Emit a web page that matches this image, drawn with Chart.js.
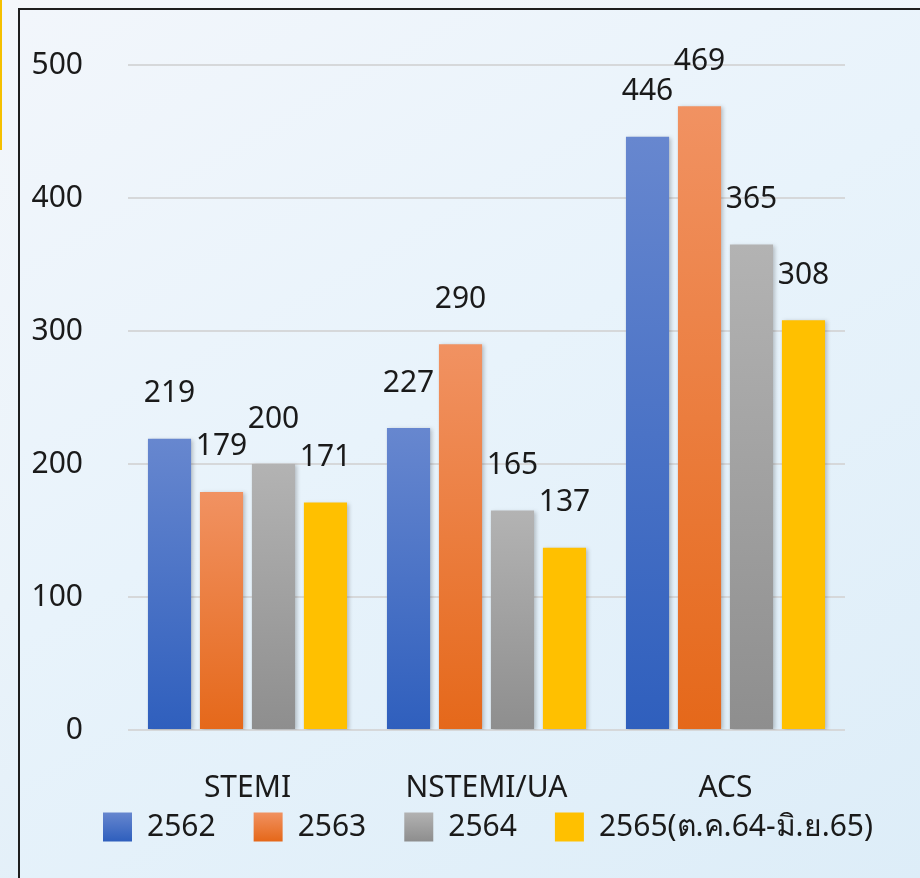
<!DOCTYPE html>
<html>
<head>
<meta charset="utf-8">
<script src="https://cdn.jsdelivr.net/npm/chart.js@4.4.1/dist/chart.umd.min.js"></script>
<style>
  html, body { margin: 0; padding: 0; }
  body {
    width: 920px; height: 878px; position: relative; overflow: hidden;
    background: linear-gradient(160deg, #f4f7fb 0%, #eaf3fa 50%, #dcecf7 100%);
  }
  #frame {
    position: absolute; left: 18px; top: 8px; right: -4px; bottom: -4px;
    border-left: 2px solid #1e1e1e; border-top: 2px solid #1e1e1e;
    background: linear-gradient(150deg, #f2f6fb 0%, #e8f3fb 45%, #ddedf8 100%);
  }
  #strip { position: absolute; left: 0; top: 0; width: 2px; height: 150px; background: #f5c000; }
  #chart { position: absolute; left: 0; top: 0; }
</style>
</head>
<body>
<div id="frame"></div>
<div id="strip"></div>
<canvas id="chart" width="920" height="878"></canvas>
<script>
const categories = ['STEMI', 'NSTEMI/UA', 'ACS'];
const seriesNames = ['2562', '2563', '2564', '2565(ต.ค.64-มิ.ย.65)'];
const values2562 = [219, 227, 446];
const values2563 = [179, 290, 469];
const values2564 = [200, 165, 365];
const values2565 = [171, 137, 308];
const yTicks = [0, 100, 200, 300, 400, 500];

const fontFamily = "'Noto Sans', 'Open Sans', sans-serif";

// top / bottom colours of each series gradient
const colorStops = [
    ['#6787cf', '#2f5fbd'],
    ['#f19262', '#e5681a'],
    ['#b3b3b3', '#8e8e8e'],
    ['#ffc000', '#ffc000']
];

function barGradient(i) {
    return function(context) {
        const chart = context.chart;
        const y = chart.scales.y;
        if (!y || context.raw === undefined) return colorStops[i][0];
        const top = y.getPixelForValue(context.raw);
        const base = y.getPixelForValue(0);
        const g = chart.ctx.createLinearGradient(0, top, 0, base);
        g.addColorStop(0, colorStops[i][0]);
        g.addColorStop(1, colorStops[i][1]);
        return g;
    };
}

const allValues = [values2562, values2563, values2564, values2565];

const barShadow = {
    id: 'barShadow',
    beforeDatasetsDraw(chart) {
        const ctx = chart.ctx;
        ctx.save();
        ctx.shadowColor = 'rgba(0,0,0,0.22)';
        ctx.shadowBlur = 4;
        ctx.shadowOffsetX = 2;
        ctx.shadowOffsetY = 1;
    },
    afterDatasetsDraw(chart) {
        chart.ctx.restore();
    }
};

const valueLabels = {
    id: 'valueLabels',
    afterDatasetsDraw(chart) {
        const ctx = chart.ctx;
        ctx.save();
        ctx.font = '30px ' + fontFamily;
        ctx.fillStyle = '#1a1a1a';
        ctx.textAlign = 'center';
        ctx.textBaseline = 'middle';
        chart.data.datasets.forEach((ds, i) => {
            chart.getDatasetMeta(i).data.forEach((bar, j) => {
                ctx.fillText(ds.data[j], bar.x, bar.y - 45);
            });
        });
        ctx.restore();
    }
};

// nudge legend so it sits where the original one does
const legendShift = {
    id: 'legendShift',
    afterLayout(chart) {
        const l = chart.legend;
        l.left += 28;
        l.right += 28;
        l.top -= 26;
        l.bottom -= 26;
    }
};

const chart = new Chart(document.getElementById('chart'), {
    type: 'bar',
    data: {
        labels: categories,
        datasets: allValues.map((vals, i) => ({
            label: seriesNames[i],
            data: vals,
            backgroundColor: barGradient(i),
            borderWidth: 0,
            categoryPercentage: 0.87,
            barPercentage: 0.83
        }))
    },
    options: {
        responsive: false,
        animation: false,
        devicePixelRatio: 1,
        layout: { padding: { left: 10, right: 10, top: 65, bottom: 0 } },
        plugins: {
            tooltip: { enabled: false },
            legend: {
                position: 'bottom',
                maxHeight: 80,
                labels: {
                    boxWidth: 29,
                    boxHeight: 29,
                    padding: 38,
                    color: '#1a1a1a',
                    font: { family: fontFamily, size: 30 },
                    generateLabels(chart) {
                        return chart.data.datasets.map((ds, i) => {
                            const g = chart.ctx.createLinearGradient(0, 812, 0, 841);
                            g.addColorStop(0, colorStops[i][0]);
                            g.addColorStop(1, colorStops[i][1]);
                            return {
                                text: ds.label,
                                fillStyle: g,
                                strokeStyle: 'rgba(0,0,0,0)',
                                lineWidth: 0,
                                datasetIndex: i,
                                fontColor: '#1a1a1a'
                            };
                        });
                    }
                }
            }
        },
        scales: {
            x: {
                grid: { display: false },
                border: { display: false },
                ticks: {
                    color: '#1a1a1a',
                    padding: 32,
                    font: { family: fontFamily, size: 30 }
                },
                afterFit(scale) { scale.height = 70; }
            },
            y: {
                min: 0,
                max: 500,
                afterBuildTicks(scale) {
                    scale.ticks = yTicks.map(v => ({ value: v }));
                },
                grid: { color: '#d6d8da', lineWidth: 2, drawTicks: false },
                border: { display: false },
                ticks: {
                    color: '#1a1a1a',
                    padding: 45,
                    font: { family: fontFamily, size: 30 }
                },
                afterFit(scale) { scale.width = 118; }
            },
            // empty right axis, only keeps the plot clear of the right edge
            yRight: {
                position: 'right',
                min: 0,
                max: 1,
                grid: { display: false },
                border: { display: false },
                ticks: { display: false },
                afterFit(scale) { scale.width = 65; }
            }
        }
    },
    plugins: [barShadow, valueLabels, legendShift]
});
</script>
</body>
</html>
